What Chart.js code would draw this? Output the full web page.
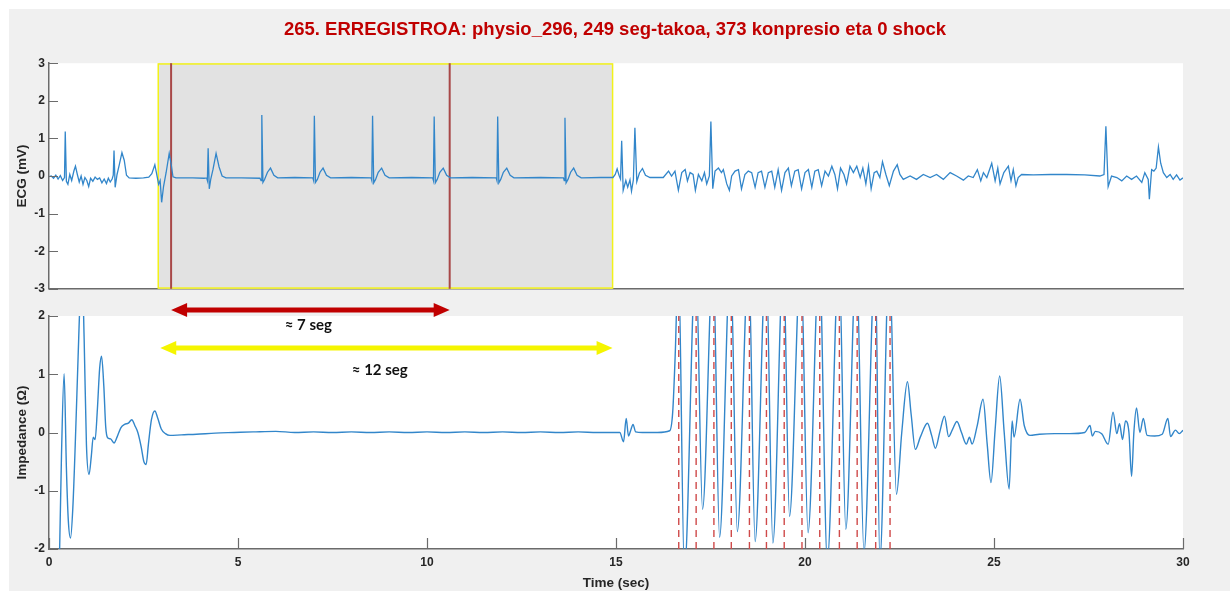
<!DOCTYPE html>
<html>
<head>
<meta charset="utf-8">
<title>ECG + impedance</title>
<script src="https://cdn.jsdelivr.net/npm/chart.js@4.4.1/dist/chart.umd.min.js"></script>
<style>
  html, body { margin: 0; padding: 0; background: #fff; }
  #fig { position: absolute; left: 9px; top: 9px; width: 1221px; height: 582px; background: #f0f0f0; }
  #ecgBox { position: absolute; left: 0; top: 0; width: 1230px; height: 300px; }
  #impBox { position: absolute; left: 0; top: 300px; width: 1230px; height: 291px; }
</style>
</head>
<body>
<div id="fig"></div>
<div id="ecgBox"><canvas id="ecgChart"></canvas></div>
<div id="impBox"><canvas id="impChart"></canvas></div>
<script>
// --- data ---
const titleText = '265. ERREGISTROA: physio_296, 249 seg-takoa, 373 konpresio eta 0 shock';
const timeTicks = [0, 5, 10, 15, 20, 25, 30];
const ecgTicks = [-3, -2, -1, 0, 1, 2, 3];
const impTicks = [-2, -1, 0, 1, 2];

// ECG (mV) vs time (s)
const ecgSamples = [
  [0.00,-0.02],[0.06,0.00],[0.12,-0.06],[0.18,0.02],[0.24,-0.08],[0.30,0.01],[0.36,-0.12],[0.41,-0.04],[0.43,1.18],[0.46,-0.14],
  [0.50,-0.22],[0.55,0.04],[0.60,-0.12],[0.66,0.14],[0.70,0.26],[0.75,0.04],[0.80,-0.16],[0.85,0.00],[0.90,-0.22],[0.95,-0.04],
  [1.00,-0.12],[1.05,-0.28],[1.10,-0.06],[1.16,-0.14],[1.22,-0.03],[1.28,-0.09],[1.34,-0.05],[1.40,-0.18],[1.46,-0.08],[1.52,-0.20],
  [1.57,-0.06],[1.62,-0.16],[1.67,-0.08],[1.70,0.02],[1.72,0.68],[1.75,-0.30],[1.80,0.04],[1.86,0.30],[1.93,0.62],[1.99,0.42],
  [2.05,0.02],[2.12,-0.05],[2.30,-0.06],[2.50,-0.05],[2.64,-0.03],[2.72,0.06],[2.80,0.30],[2.85,0.04],[2.90,-0.22],[2.94,-0.12],
  [2.98,-0.70],[3.03,-0.28],[3.10,0.10],[3.18,0.60],[3.23,0.32],[3.28,-0.02],[3.36,-0.05],
  [3.80,-0.05],[4.10,-0.06],[4.17,-0.05],[4.19,-0.12],[4.21,0.74],[4.24,-0.34],[4.28,-0.08],[4.34,0.18],[4.42,0.60],[4.50,0.24],
  [4.58,0.00],[4.68,-0.05],[5.10,-0.05],[5.58,-0.06],[5.61,-0.12],[5.63,1.62],[5.66,-0.17],[5.70,-0.10],[5.78,0.10],[5.86,0.21],
  [5.95,0.02],[6.05,-0.05],[6.50,-0.04],[6.98,-0.05],[7.00,-0.12],[7.02,1.60],[7.05,-0.17],[7.10,-0.09],[7.17,0.10],[7.25,0.21],
  [7.34,0.02],[7.45,-0.05],[8.00,-0.04],[8.52,-0.05],[8.54,-0.12],[8.56,1.60],[8.59,-0.18],[8.64,-0.09],[8.71,0.10],[8.80,0.21],
  [8.89,0.02],[9.00,-0.05],[9.60,-0.04],[10.15,-0.05],[10.17,-0.12],[10.19,1.58],[10.22,-0.18],[10.27,-0.09],[10.34,0.10],[10.43,0.21],
  [10.52,0.02],[10.62,-0.05],[11.20,-0.04],[11.83,-0.05],[11.85,-0.12],[11.87,1.58],[11.90,-0.18],[11.95,-0.09],[12.02,0.10],[12.11,0.21],
  [12.20,0.02],[12.30,-0.05],[13.00,-0.04],[13.61,-0.05],[13.63,-0.12],[13.65,1.55],[13.68,-0.18],[13.73,-0.09],[13.80,0.10],[13.88,0.21],
  [13.97,0.02],[14.08,-0.05],[14.60,-0.04],[14.92,-0.04],
  [14.98,0.04],[15.03,0.19],[15.08,0.02],[15.12,-0.08],[15.15,0.94],[15.19,-0.38],[15.26,-0.12],[15.31,-0.30],[15.37,-0.10],[15.41,-0.40],
  [15.46,-0.10],[15.50,1.28],[15.55,-0.15],[15.62,0.08],[15.70,0.20],[15.78,0.02],[15.90,-0.04],[16.25,-0.04],
  [16.39,0.13],[16.47,0.00],[16.56,0.13],[16.65,-0.38],[16.74,0.09],[16.83,0.17],[16.89,-0.13],[16.96,0.09],[17.04,0.04],[17.10,-0.38],
  [17.18,0.04],[17.27,-0.13],[17.34,0.09],[17.40,-0.21],[17.47,0.00],[17.51,1.45],[17.56,-0.34],[17.62,0.13],[17.71,0.21],[17.79,0.09],
  [17.84,0.17],[17.93,-0.21],[18.00,-0.38],[18.06,0.00],[18.15,0.13],[18.24,0.17],[18.32,-0.34],[18.41,0.04],[18.50,0.13],[18.59,0.09],
  [18.68,-0.30],[18.76,0.09],[18.85,0.13],[18.94,-0.30],[19.03,0.09],[19.12,0.13],[19.20,-0.30],[19.29,0.17],[19.38,-0.38],[19.47,0.09],
  [19.56,0.21],[19.64,-0.26],[19.73,0.13],[19.82,0.17],[19.91,-0.34],[20.00,0.09],[20.09,0.17],[20.18,-0.30],[20.26,0.13],[20.35,0.17],
  [20.44,-0.26],[20.53,0.13],[20.62,0.00],[20.71,0.26],[20.79,0.04],[20.86,-0.34],[20.94,0.21],[21.03,0.04],[21.10,-0.21],[21.19,0.26],
  [21.28,0.09],[21.37,0.26],[21.46,-0.04],[21.53,0.21],[21.61,-0.21],[21.68,0.26],[21.75,-0.34],[21.83,0.09],[21.90,0.13],[21.98,-0.04],
  [22.05,0.38],[22.14,0.04],[22.23,-0.26],[22.34,0.13],[22.44,0.30],[22.51,0.04],[22.60,-0.09],[22.78,0.00],[22.95,-0.09],[23.13,0.04],
  [23.31,-0.04],[23.48,0.04],[23.66,-0.09],[23.84,0.09],[24.01,0.00],[24.19,-0.11],[24.32,0.00],[24.45,-0.04],[24.56,0.17],[24.65,-0.13],
  [24.72,0.09],[24.81,-0.04],[24.94,0.34],[25.03,-0.13],[25.10,0.21],[25.16,-0.21],[25.26,0.09],[25.38,0.26],[25.45,-0.13],[25.51,0.17],
  [25.58,-0.26],[25.64,-0.04],[25.73,0.04],[26.04,0.03],[26.50,0.04],[26.92,0.04],[27.40,0.03],[27.80,0.00],[27.91,0.04],[27.96,1.32],
  [28.02,-0.28],[28.11,0.00],[28.25,-0.04],[28.38,-0.13],[28.51,0.00],[28.64,-0.09],[28.77,0.00],[28.91,-0.17],[28.99,0.09],[29.08,-0.09],
  [29.11,-0.62],[29.17,0.17],[29.23,0.13],[29.29,0.21],[29.35,0.77],[29.41,0.34],[29.48,0.09],[29.57,-0.04],[29.66,0.04],[29.74,-0.09],
  [29.83,0.03],[29.92,-0.11],[30.00,-0.05]
];

// Impedance (ohm) vs time (s)
const impedanceSamples = [
  [0.27,-2.4],[0.33,-0.4],[0.40,1.01],[0.46,-0.6],[0.51,-1.5],[0.57,-1.81],[0.63,-1.3],[0.70,-0.1],[0.77,1.3],[0.83,2.4],
  [0.88,2.7],[0.93,1.6],[0.99,-0.2],[1.06,-0.72],[1.12,-0.4],[1.17,-0.08],[1.22,-0.12],[1.28,0.4],[1.34,1.1],[1.39,1.31],
  [1.45,0.8],[1.50,0.1],[1.55,-0.09],[1.63,-0.11],[1.72,-0.18],[1.80,-0.08],[1.90,0.08],[2.00,0.14],[2.10,0.16],[2.19,0.22],
  [2.27,0.12],[2.35,0.0],[2.44,-0.25],[2.51,-0.5],[2.57,-0.55],[2.63,-0.2],[2.71,0.22],[2.80,0.37],[2.88,0.24],[2.97,0.06],
  [3.08,-0.02],[3.20,-0.05],[3.50,-0.04],[3.90,-0.03],[4.40,-0.01],[4.90,0.0],[5.40,0.01],[6.00,0.02],[6.50,0.0],[7.00,0.01],
  [7.50,0.0],[8.00,0.01],[8.50,0.0],[9.00,0.01],[9.50,0.0],[10.00,0.01],[10.50,0.0],[11.00,0.01],[11.50,0.0],[12.00,0.01],
  [12.50,0.0],[13.00,0.01],[13.50,0.0],[14.00,0.01],[14.50,0.0],[15.10,0.0],[15.20,-0.16],[15.27,0.24],[15.33,-0.06],[15.39,0.04],
  [15.45,0.14],[15.52,0.01],[15.70,0.0],[16.10,0.0],[16.42,0.03],[16.50,0.35],[16.57,1.4],
  [16.65,3.0],[16.81,-2.4],[17.11,3.0],[17.29,-1.32],[17.57,3.0],[17.74,-1.80],[18.03,3.0],[18.21,-1.70],[18.51,3.0],[18.68,-1.87],
  [18.97,3.0],[19.15,-1.90],[19.43,3.0],[19.59,-1.44],[19.89,3.0],[20.08,-1.72],[20.38,3.0],[20.59,-2.2],[20.90,3.0],[21.08,-1.66],
  [21.36,3.0],[21.56,-2.05],[21.86,3.0],[21.98,-2.2],[22.23,3.0],[22.42,-1.06],
  [22.56,0.0],[22.71,0.87],[22.81,0.3],[22.92,-0.29],[23.05,-0.08],[23.24,0.16],[23.35,-0.05],[23.45,-0.27],[23.57,0.02],[23.69,0.28],
  [23.80,-0.07],[23.90,0.05],[24.02,0.19],[24.14,0.0],[24.27,-0.2],[24.35,-0.08],[24.42,-0.2],[24.55,0.1],[24.71,0.57],[24.82,-0.2],
  [24.92,-0.86],[25.03,0.05],[25.15,0.97],[25.27,0.0],[25.40,-0.97],[25.48,0.2],[25.53,-0.08],[25.69,0.57],[25.80,0.12],[25.95,-0.05],
  [26.20,-0.03],[26.60,-0.02],[27.00,-0.02],[27.40,0.0],[27.54,0.12],[27.60,-0.06],[27.68,0.02],[27.85,-0.02],[28.02,-0.2],[28.15,0.35],
  [28.25,-0.02],[28.32,0.15],[28.40,-0.12],[28.48,0.2],[28.57,0.0],[28.64,-0.75],[28.70,0.0],[28.77,0.42],[28.86,0.0],[28.95,0.24],
  [29.05,-0.05],[29.25,-0.06],[29.45,-0.03],[29.60,0.24],[29.67,-0.07],[29.80,0.04],[29.90,-0.02],[30.00,0.04]
];

// compression marks (s), analysis window and the two marked beats
const compressionTimes = [16.66, 17.12, 17.59, 18.05, 18.53, 18.98, 19.45, 19.92, 20.39, 20.91, 21.38, 21.87, 22.25];
const windowSpan = [2.89, 14.91];
const beatMarks = [3.23, 10.6];
const spanLabels = ['≈ 7 seg', '≈ 12 seg'];
const spanLabelTimes = [6.86, 8.75];

// --- styling ---
const FONT = '"Liberation Sans", Arial, sans-serif';
const AXIS = '#6b6b6b';
const TEXT = '#262626';
const LINE = 'rgb(50,134,202)';

const toPoints = arr => arr.map(([x, y]) => ({ x, y }));

function whiteArea(chart) {
  const { ctx, chartArea: a } = chart;
  ctx.save();
  ctx.fillStyle = '#ffffff';
  ctx.fillRect(a.left, a.top, a.right - a.left, a.bottom - a.top);
  ctx.restore();
}

function drawInwardTicks(chart, yLen, xLen) {
  const { ctx, chartArea: a, scales } = chart;
  ctx.save();
  ctx.strokeStyle = AXIS;
  ctx.lineWidth = 1.2;
  ctx.beginPath();
  scales.y.ticks.forEach(t => {
    const py = Math.round(scales.y.getPixelForValue(t.value)) + 0.5;
    ctx.moveTo(a.left, py);
    ctx.lineTo(a.left + yLen, py);
  });
  if (xLen) {
    scales.x.ticks.forEach(t => {
      const px = Math.round(scales.x.getPixelForValue(t.value)) + 0.5;
      ctx.moveTo(px, a.bottom);
      ctx.lineTo(px, a.bottom - xLen);
    });
  }
  ctx.stroke();
  ctx.restore();
}

function drawArrow(ctx, x1, x2, y, color) {
  const shaft = 5, headLen = 16, headHalf = 7;
  ctx.save();
  ctx.fillStyle = color;
  ctx.beginPath();
  ctx.moveTo(x1, y);
  ctx.lineTo(x1 + headLen, y - headHalf);
  ctx.lineTo(x1 + headLen, y - shaft / 2);
  ctx.lineTo(x2 - headLen, y - shaft / 2);
  ctx.lineTo(x2 - headLen, y - headHalf);
  ctx.lineTo(x2, y);
  ctx.lineTo(x2 - headLen, y + headHalf);
  ctx.lineTo(x2 - headLen, y + shaft / 2);
  ctx.lineTo(x1 + headLen, y + shaft / 2);
  ctx.lineTo(x1 + headLen, y + headHalf);
  ctx.closePath();
  ctx.fill();
  ctx.restore();
}

const ecgMarks = {
  id: 'ecgMarks',
  beforeDraw: chart => whiteArea(chart),
  beforeDatasetsDraw(chart) {
    const { ctx, chartArea: a, scales: { x } } = chart;
    const x0 = x.getPixelForValue(windowSpan[0]);
    const x1 = x.getPixelForValue(windowSpan[1]);
    ctx.save();
    ctx.fillStyle = '#e2e2e2';
    ctx.fillRect(x0, a.top, x1 - x0, a.bottom - a.top);
    ctx.strokeStyle = '#f2f21a';
    ctx.lineWidth = 1.5;
    ctx.strokeRect(x0, a.top + 0.75, x1 - x0, a.bottom - a.top - 1.5);
    ctx.strokeStyle = '#a84848';
    ctx.lineWidth = 2;
    beatMarks.forEach(t => {
      const px = x.getPixelForValue(t);
      ctx.beginPath();
      ctx.moveTo(px, a.top);
      ctx.lineTo(px, a.bottom);
      ctx.stroke();
    });
    ctx.restore();
  },
  afterDatasetsDraw: chart => drawInwardTicks(chart, 9, 0)
};

const impMarks = {
  id: 'impMarks',
  beforeDraw: chart => whiteArea(chart),
  afterDatasetsDraw(chart) {
    const { ctx, chartArea: a, scales: { x } } = chart;
    ctx.save();
    ctx.strokeStyle = '#cf4a4a';
    ctx.lineWidth = 1.4;
    ctx.setLineDash([7, 5]);
    compressionTimes.forEach(t => {
      const px = x.getPixelForValue(t);
      ctx.beginPath();
      ctx.moveTo(px, a.bottom);
      ctx.lineTo(px, a.top);
      ctx.stroke();
    });
    ctx.restore();
    drawInwardTicks(chart, 9, 11);
  },
  afterDraw(chart) {
    const { ctx, chartArea: a, scales: { x } } = chart;
    drawArrow(ctx, x.getPixelForValue(beatMarks[0]), x.getPixelForValue(beatMarks[1]), a.top - 6, '#c00000');
    drawArrow(ctx, x.getPixelForValue(windowSpan[0]) + 2, x.getPixelForValue(windowSpan[1]), a.top + 32, '#f5f500');
    ctx.save();
    ctx.fillStyle = '#111';
    ctx.font = 'bold 15px Lato, "Open Sans", sans-serif';
    ctx.textAlign = 'center';
    ctx.textBaseline = 'middle';
    ctx.fillText(spanLabels[0], x.getPixelForValue(spanLabelTimes[0]), a.top + 9);
    ctx.fillText(spanLabels[1], x.getPixelForValue(spanLabelTimes[1]), a.top + 54);
    ctx.restore();
  }
};

const tickFont = { family: FONT, size: 12, weight: 'bold' };
const titleFont = { family: FONT, size: 13.5, weight: 'bold' };

new Chart(document.getElementById('ecgChart'), {
  type: 'line',
  data: {
    datasets: [{
      data: toPoints(ecgSamples),
      borderColor: LINE,
      borderWidth: 1.3,
      pointRadius: 0,
      tension: 0
    }]
  },
  options: {
    animation: false,
    responsive: true,
    maintainAspectRatio: false,
    layout: { padding: { top: 10, left: 0, right: 0, bottom: 0 } },
    plugins: {
      legend: { display: false },
      tooltip: { enabled: false },
      title: {
        display: true,
        text: titleText,
        color: '#c00000',
        font: { family: FONT, size: 18.5, weight: 'bold' },
        padding: { top: 9, bottom: 22 }
      }
    },
    scales: {
      x: {
        type: 'linear',
        min: timeTicks[0],
        max: timeTicks[timeTicks.length - 1],
        ticks: { display: false, stepSize: 5 },
        grid: { display: false, drawTicks: false },
        border: { display: true, color: AXIS, width: 1.5 },
        afterFit: s => { s.height = 3; }
      },
      y: {
        min: ecgTicks[0],
        max: ecgTicks[ecgTicks.length - 1],
        ticks: { stepSize: 1, color: TEXT, font: tickFont, padding: 4 },
        grid: { display: false, drawTicks: false },
        border: { display: true, color: AXIS, width: 1.5 },
        title: { display: true, text: 'ECG (mV)', color: TEXT, font: titleFont, padding: { top: 14, bottom: 0 } },
        afterFit: s => { s.width = 49; }
      },
      // empty right-hand margin so the title stays centred on the whole figure
      margin: {
        position: 'right',
        display: true,
        ticks: { display: false },
        grid: { display: false, drawTicks: false },
        border: { display: false },
        afterFit: s => { s.width = 47; }
      }
    }
  },
  plugins: [ecgMarks]
});

new Chart(document.getElementById('impChart'), {
  type: 'line',
  data: {
    datasets: [{
      data: toPoints(impedanceSamples),
      borderColor: LINE,
      borderWidth: 1.4,
      pointRadius: 0,
      cubicInterpolationMode: 'monotone'
    }]
  },
  options: {
    animation: false,
    responsive: true,
    maintainAspectRatio: false,
    layout: { padding: { top: 16, left: 0, right: 47, bottom: 0 } },
    plugins: { legend: { display: false }, tooltip: { enabled: false } },
    scales: {
      x: {
        type: 'linear',
        min: timeTicks[0],
        max: timeTicks[timeTicks.length - 1],
        ticks: { stepSize: 5, color: TEXT, font: tickFont, padding: 6, maxRotation: 0 },
        grid: { display: false, drawTicks: false },
        border: { display: true, color: AXIS, width: 1.5 },
        title: { display: true, text: 'Time (sec)', color: TEXT, font: titleFont, padding: { top: 0, bottom: 0 } },
        afterFit: s => { s.height = 42; }
      },
      y: {
        min: impTicks[0],
        max: impTicks[impTicks.length - 1],
        ticks: { stepSize: 1, color: TEXT, font: tickFont, padding: 4 },
        grid: { display: false, drawTicks: false },
        border: { display: true, color: AXIS, width: 1.5 },
        title: { display: true, text: 'Impedance (Ω)', color: TEXT, font: titleFont, padding: { top: 14, bottom: 0 } },
        afterFit: s => { s.width = 49; }
      }
    }
  },
  plugins: [impMarks]
});
</script>
</body>
</html>
